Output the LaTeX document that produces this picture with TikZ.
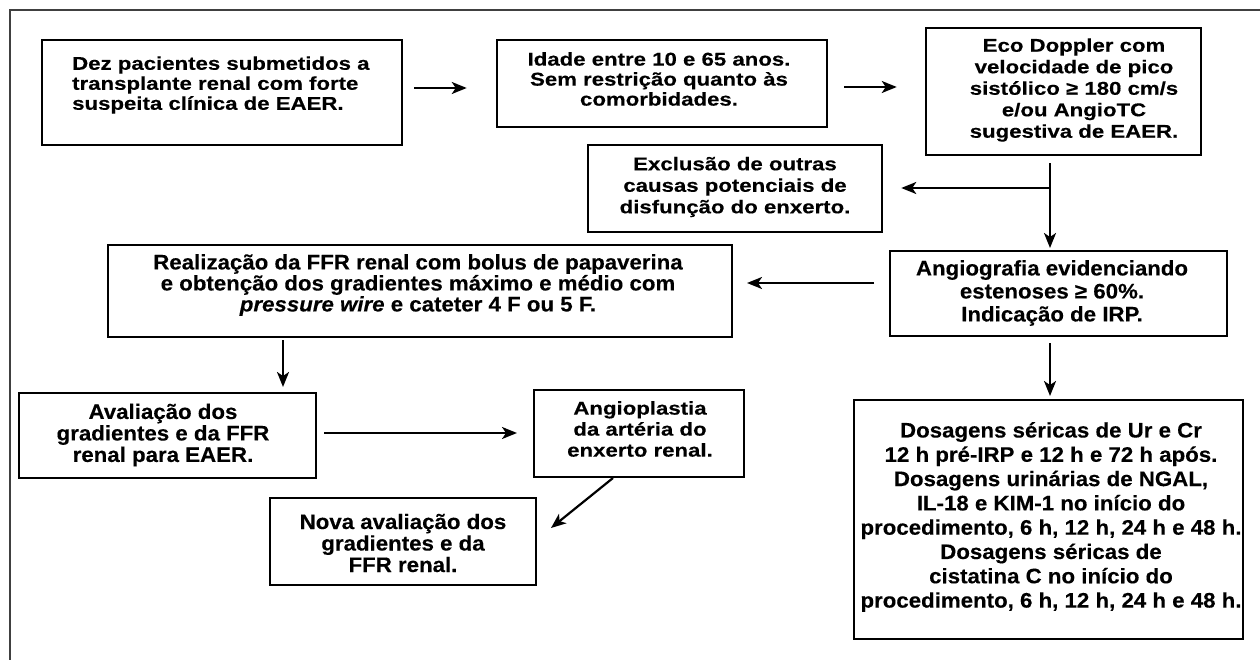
\documentclass[tikz,border=0pt]{standalone}
\usepackage{fontspec}
\setmainfont{Liberation Sans}
\newfontfamily\upf[FakeStretch=1.2,FakeBold=0.3]{Liberation Sans}
\newfontfamily\lof[FakeStretch=1.06,FakeBold=0.3]{Liberation Sans}
\usetikzlibrary{arrows.meta,calc}
\begin{document}
\begin{tikzpicture}[x=1pt,y=-1pt,
  frameline/.style={line width=1.5pt, draw=black!75},
  boxU/.style={draw, line width=2.5pt, rectangle, inner sep=0pt},
  boxL/.style={draw, line width=2pt, rectangle, inner sep=0pt},
  txtU/.style={font=\upf\bfseries\fontsize{18.5}{20}\selectfont, align=center, inner sep=0pt},
  txtL/.style={font=\lof\bfseries\fontsize{21}{21}\selectfont, align=center, inner sep=0pt},
  arr/.style={line width=2.2pt, -{Stealth[length=15pt,width=12pt,inset=4pt]}}]
\useasboundingbox (0,0) rectangle (1260,660);
% frame (open on right and bottom)
\draw[frameline] (10,660) -- (10,10) -- (1260,10);
% boxes
\node[boxU, minimum width=360pt, minimum height=105pt] (b1) at (222,92.5) {};
\node[boxU, minimum width=330pt, minimum height=87pt] (b2) at (662,83.5) {};
\node[boxU, minimum width=275pt, minimum height=127pt] (b3) at (1063.5,91.5) {};
\node[boxU, minimum width=294pt, minimum height=87pt] (b4) at (735,188.5) {};
\node[boxL, minimum width=624pt, minimum height=92pt] (b5) at (420,291) {};
\node[boxL, minimum width=337pt, minimum height=85pt] (b6) at (1058.5,293.5) {};
\node[boxL, minimum width=297pt, minimum height=85pt] (b7) at (167.5,435.5) {};
\node[boxL, minimum width=210pt, minimum height=87pt] (b8) at (639,433.5) {};
\node[boxL, minimum width=266pt, minimum height=87pt] (b9) at (403,541.5) {};
\node[boxL, minimum width=389pt, minimum height=239pt] (b10) at (1048.5,519.5) {};
% texts
\node[txtU, align=left, anchor=west] (t1) at (72,85) {Dez pacientes submetidos a\\transplante renal com forte\\suspeita clínica de EAER.};
\node[txtU] (t2) at (659,79) {Idade entre 10 e 65 anos.\\Sem restrição quanto às\\comorbidades.};
\node[txtU, font=\upf\bfseries\fontsize{18.5}{21.5}\selectfont] (t3) at (1074,90) {Eco Doppler com\\velocidade de pico\\sistólico ≥ 180 cm/s\\e/ou AngioTC\\sugestiva de EAER.};
\node[txtU, font=\upf\bfseries\fontsize{18.5}{21.5}\selectfont] (t4) at (735,187) {Exclusão de outras\\causas potenciais de\\disfunção do enxerto.};
\node[txtL] (t5) at (418,285) {Realização da FFR renal com bolus de papaverina\\e obtenção dos gradientes máximo e médio com\\\textit{pressure wire} e cateter 4 F ou 5 F.};
\node[txtL, font=\lof\bfseries\fontsize{21}{23}\selectfont] (t6) at (1052,293) {Angiografia evidenciando\\estenoses ≥ 60\%.\\Indicação de IRP.};
\node[txtL, font=\lof\bfseries\fontsize{21}{21.5}\selectfont] (t7) at (163,435) {Avaliação dos\\gradientes e da FFR\\renal para EAER.};
\node[txtU, font=\upf\bfseries\fontsize{18.5}{21}\selectfont] (t8) at (640,429) {Angioplastia\\da artéria do\\enxerto renal.};
\node[txtL, font=\lof\bfseries\fontsize{21}{21.5}\selectfont] (t9) at (403,543) {Nova avaliação dos\\gradientes e da\\FFR renal.};
\node[txtL, font=\lof\bfseries\fontsize{21}{24.3}\selectfont] (t10) at (1051,517) {Dosagens séricas de Ur e Cr\\12 h pré-IRP e 12 h e 72 h após.\\Dosagens urinárias de NGAL,\\IL-18 e KIM-1 no início do\\procedimento, 6 h, 12 h, 24 h e 48 h.\\Dosagens séricas de\\cistatina C no início do\\procedimento, 6 h, 12 h, 24 h e 48 h.};
% junction on the Doppler line
\coordinate (j1) at (1050,188);
% connectors
\draw[arr] ($(b1.east)+(11,-4.5)$) -- ($(b2.west)+(-29,4.5)$);
\draw[arr] ($(b2.east)+(16,3.5)$) -- ($(b3.west)+(-28,-4.5)$);
\draw[arr] ($(b3.south)+(-13.5,7)$) -- ($(b6.north)+(-8.5,-2)$);
\draw[arr] (j1) -- ($(b4.east)+(18,-0.5)$);
\draw[arr] ($(b6.west)+(-15,-10.5)$) -- ($(b5.east)+(14,-8)$);
\draw[arr] ($(b5.south)+(-137,2)$) -- ($(b7.north)+(115.5,-5)$);
\draw[arr] ($(b6.south)+(-8.5,6)$) -- ($(b10.north)+(1.5,-3)$);
\draw[arr] ($(b7.east)+(7,-2.5)$) -- ($(b8.west)+(-16,-0.5)$);
\draw[arr] ($(b8.south)+(-26,0)$) -- ($(b9.east)+(14,-13.5)$);
\end{tikzpicture}
\end{document}
